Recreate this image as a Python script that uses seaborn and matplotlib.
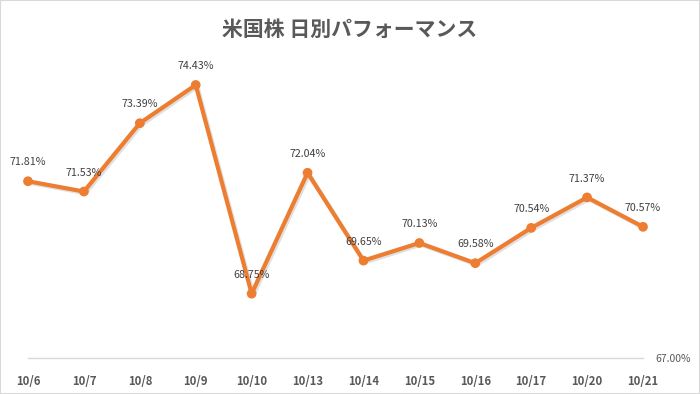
import matplotlib
matplotlib.use("Agg")
import matplotlib.pyplot as plt
import matplotlib.patheffects as pe
import seaborn as sns
import pandas as pd

# Datos
dates = ["10/6", "10/7", "10/8", "10/9", "10/10", "10/13", "10/14",
         "10/15", "10/16", "10/17", "10/20", "10/21"]
performance = [71.81, 71.53, 73.39, 74.43, 68.75, 72.04, 69.65,
               70.13, 69.58, 70.54, 71.37, 70.57]

df = pd.DataFrame({"date": dates, "perf": performance})
df["pos"] = range(len(df))

sns.set_style("white")
plt.rcParams["font.family"] = ["Noto Sans CJK JP", "DejaVu Sans"]

fig = plt.figure(figsize=(7, 3.94), dpi=100)
ax = fig.add_axes([28 / 700, 36 / 394, 615 / 700, 294 / 394])

orange = "#ED7D31"
sns.lineplot(data=df, x="pos", y="perf", color=orange, linewidth=3,
             marker="o", markersize=7, markeredgewidth=0, ax=ax, clip_on=False,
             path_effects=[pe.SimpleLineShadow(offset=(1.2, -1.2), alpha=0.12),
                           pe.Normal()])

# Etiquetas de datos
for x, y in zip(df["pos"], df["perf"]):
    ax.annotate(f"{y:.2f}%", (x, y), xytext=(0, 10), textcoords="offset points",
                ha="center", va="bottom", fontsize=7.7, color="#404040")

ax.set_xlim(0, len(dates) - 1)
ax.set_ylim(67, 75)
ax.set_xticks(df["pos"])
ax.set_xticklabels(dates, fontsize=8.2, fontweight="bold", color="#595959")
ax.set_yticks([])
ax.tick_params(axis="x", length=0, pad=12)
ax.set_xlabel("")
ax.set_ylabel("")

for side in ["left", "right", "top"]:
    ax.spines[side].set_visible(False)
ax.spines["bottom"].set_color("#D9D9D9")
ax.spines["bottom"].set_linewidth(1)

ax.text(1.02, -0.005, "67.00%", transform=ax.transAxes, ha="left", va="center",
        fontsize=7.5, color="#595959")

fig.text(0.5, 0.925, "米国株 日別パフォーマンス", ha="center", va="center",
         fontsize=15, fontweight="bold", color="#595959")

# Borde del gráfico
fig.patches.append(plt.Rectangle((0, 0), 1, 1, transform=fig.transFigure,
                                 fill=False, edgecolor="#D9D9D9", linewidth=1.5))

plt.savefig("out.png", dpi=100)
